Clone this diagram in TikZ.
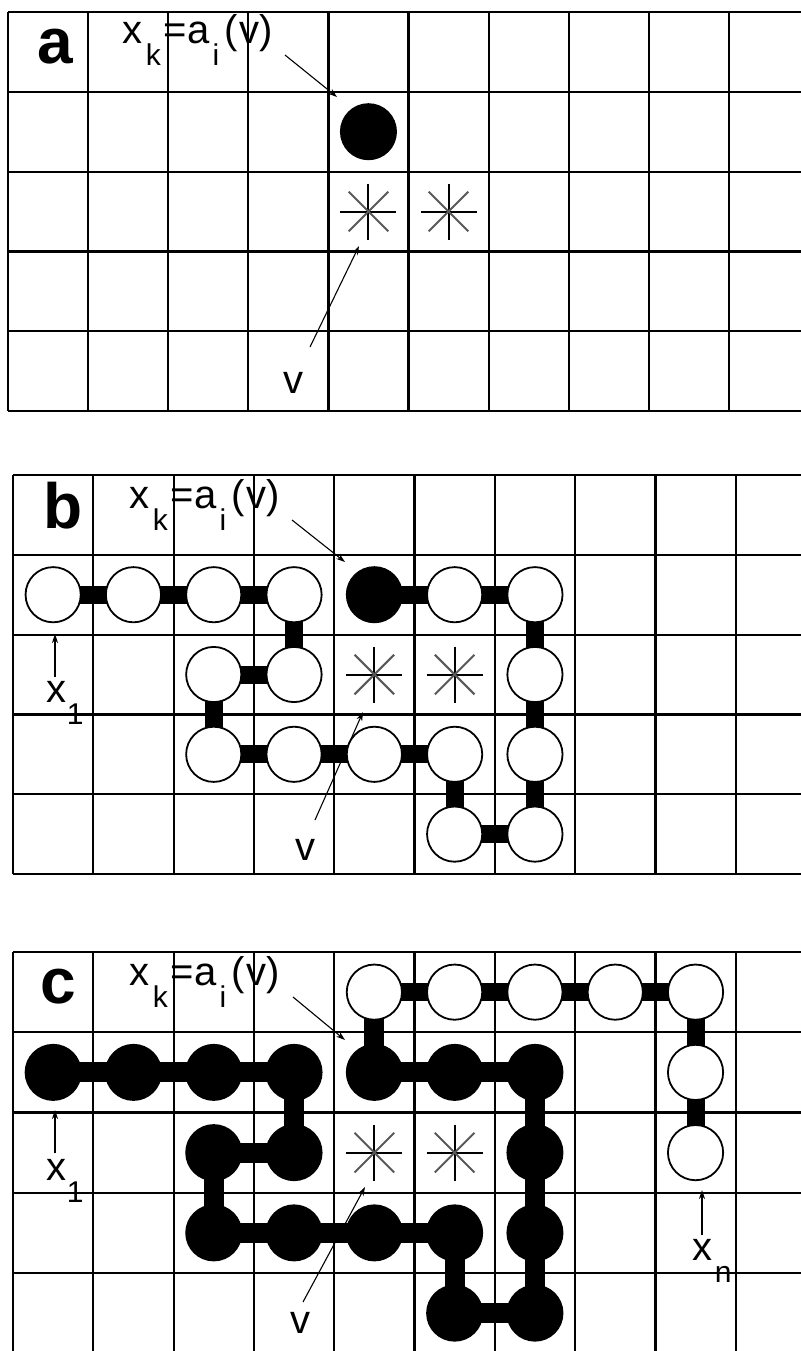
\documentclass[tikz,border=0pt]{standalone}
\usepackage{fontspec}
\setmainfont{Liberation Sans}
\usetikzlibrary{arrows.meta}
\pgfdeclarelayer{bglayer}
\pgfdeclarelayer{gridlayer}
\pgfdeclarelayer{barlayer}
\pgfsetlayers{bglayer,gridlayer,barlayer,main}
\newcommand{\sbs}[1]{\raisebox{-11pt}{\fontsize{15}{15}\selectfont #1}}
\newcommand{\mystar}[1]{%
  \draw[starv] ([yshift=14pt]#1.center) -- ([yshift=-14pt]#1.center);
  \draw[starv] ([xshift=-14pt]#1.center) -- ([xshift=14pt]#1.center);
  \draw[stard] ([shift={(-9.9pt,9.9pt)}]#1.center) -- ([shift={(9.9pt,-9.9pt)}]#1.center);
  \draw[stard] ([shift={(-9.9pt,-9.9pt)}]#1.center) -- ([shift={(9.9pt,9.9pt)}]#1.center);}
\begin{document}
\begin{tikzpicture}[x=0.5pt,y=-0.5pt,
  gridline/.style={line width=1.1pt,black},
  wc/.style={circle,draw=black,line width=0.9pt,fill=white,minimum size=27.6pt,inner sep=0pt},
  bc/.style={circle,draw=black,line width=0.9pt,fill=black,minimum size=27.6pt,inner sep=0pt},
  bar/.style={line width=9pt,black},
  bbar/.style={line width=10pt,black},
  ptr/.style={line width=0.55pt,black,-{Stealth[length=4.5pt,width=3pt]}},
  lbl/.style={inner sep=0pt,anchor=base west,font=\fontsize{20}{20}\selectfont},
  panel/.style={inner sep=0pt,anchor=base west,font=\fontsize{32}{32}\selectfont\bfseries},
  starnode/.style={inner sep=0pt,minimum size=28pt},
  starv/.style={line width=1pt,black},
  stard/.style={line width=1pt,black!65}]
\useasboundingbox (0,0) rectangle (801,1351);
\begin{pgfonlayer}{bglayer}
\fill[white] (0,0) rectangle (801,1351);
\end{pgfonlayer}

% cell centres
\foreach \c in {0,...,8}{\foreach \r in {0,...,4}{
  \coordinate (a-\c-\r) at ({8+80.1*(\c+0.5)},{12+79.8*(\r+0.5)});
  \coordinate (b-\c-\r) at ({13+80.3*(\c+0.5)},{475+79.8*(\r+0.5)});
  \coordinate (c-\c-\r) at ({13+80.3*(\c+0.5)},{952+80.25*(\r+0.5)});
}}

% grids
\begin{pgfonlayer}{gridlayer}
\foreach \i in {0,...,9}{
  \draw[gridline] ({8+80.1*\i},12) -- ({8+80.1*\i},411);
  \draw[gridline] ({13+80.3*\i},475) -- ({13+80.3*\i},874);
  \draw[gridline] ({13+80.3*\i},952) -- ({13+80.3*\i},1351);
}
\foreach \j in {0,...,5}{
  \draw[gridline] (8,{12+79.8*\j}) -- (801,{12+79.8*\j});
  \draw[gridline] (13,{475+79.8*\j}) -- (801,{475+79.8*\j});
}
\foreach \j in {0,...,4}{
  \draw[gridline] (13,{952+80.25*\j}) -- (801,{952+80.25*\j});
}
\end{pgfonlayer}

% ---------------- panel a
\node[panel] (pa) at (37.5,63) {a};
\node[lbl] (axk) at (122.5,43) {x\kern1.5pt\sbs{k}\kern1.5pt=a\kern1.5pt\sbs{i}\kern2.5pt(\kern1pt v)};
\node[bc] (ak) at (a-4-1) {};
\node[starnode] (as1) at (a-4-2) {};
\node[starnode] (as2) at (a-5-2) {};
\mystar{as1}\mystar{as2}
\node[lbl] (av) at (283,393) {v};
\coordinate (a-xks) at (285,55);
\coordinate (a-xke) at (337,97);
\coordinate (a-vs) at (310,347);
\coordinate (a-ve) at (359,246);
\draw[ptr] (a-xks) -- (a-xke);
\draw[ptr] (a-vs) -- (a-ve);

% ---------------- panel b
\node[panel] (pb) at (43.5,528) {b};
\node[lbl] (bxk) at (129.5,508) {x\kern1.5pt\sbs{k}\kern1.5pt=a\kern1.5pt\sbs{i}\kern2.5pt(\kern1pt v)};
\foreach \c/\r/\s [count=\i] in {0/1/wc,1/1/wc,2/1/wc,3/1/wc,3/2/wc,2/2/wc,2/3/wc,3/3/wc,4/3/wc,5/3/wc,5/4/wc,6/4/wc,6/3/wc,6/2/wc,6/1/wc,5/1/wc,4/1/bc}{
  \node[\s] (b\i) at (b-\c-\r) {};
}
\begin{pgfonlayer}{barlayer}
\foreach \i [evaluate=\i as \j using int(\i+1)] in {1,...,16}{
  \draw[bar] (b\i.center) -- (b\j.center);
}
\end{pgfonlayer}
\node[starnode] (bs1) at (b-4-2) {};
\node[starnode] (bs2) at (b-5-2) {};
\mystar{bs1}\mystar{bs2}
\node[lbl] (bv) at (295,860) {v};
\node[lbl] (bx1) at (46.5,702) {x\sbs{1}};
\coordinate (b-xks) at (292,520);
\coordinate (b-xke) at (345,562);
\coordinate (b-vs) at (315,820);
\coordinate (b-ve) at (363,712);
\coordinate (b-x1s) at (55,677);
\coordinate (b-x1e) at (55,634);
\draw[ptr] (b-xks) -- (b-xke);
\draw[ptr] (b-vs) -- (b-ve);
\draw[ptr] (b-x1s) -- (b-x1e);

% ---------------- panel c
\node[panel] (pc) at (40.5,1003) {c};
\node[lbl] (cxk) at (129.5,985) {x\kern1.5pt\sbs{k}\kern1.5pt=a\kern1.5pt\sbs{i}\kern2.5pt(\kern1pt v)};
\foreach \c/\r/\s [count=\i] in {0/1/bc,1/1/bc,2/1/bc,3/1/bc,3/2/bc,2/2/bc,2/3/bc,3/3/bc,4/3/bc,5/3/bc,5/4/bc,6/4/bc,6/3/bc,6/2/bc,6/1/bc,5/1/bc,4/1/bc,4/0/wc,5/0/wc,6/0/wc,7/0/wc,8/0/wc,8/1/wc,8/2/wc}{
  \node[\s] (c\i) at (c-\c-\r) {};
}
\begin{pgfonlayer}{barlayer}
\foreach \i [evaluate=\i as \j using int(\i+1)] in {1,...,17}{
  \draw[bbar] (c\i.center) -- (c\j.center);
}
\foreach \i [evaluate=\i as \j using int(\i+1)] in {18,...,23}{
  \draw[bar] (c\i.center) -- (c\j.center);
}
\end{pgfonlayer}
\node[starnode] (cs1) at (c-4-2) {};
\node[starnode] (cs2) at (c-5-2) {};
\mystar{cs1}\mystar{cs2}
\node[lbl] (cv) at (290,1333) {v};
\node[lbl] (cx1) at (46.5,1180) {x\sbs{1}};
\node[lbl] (cxn) at (692.5,1260) {x\kern1pt\sbs{n}};
\coordinate (c-xks) at (293,997);
\coordinate (c-xke) at (345,1040);
\coordinate (c-vs) at (303,1302);
\coordinate (c-ve) at (365,1187);
\coordinate (c-x1s) at (55,1153);
\coordinate (c-x1e) at (55,1110);
\coordinate (c-xns) at (702,1235);
\coordinate (c-xne) at (702,1190);
\draw[ptr] (c-xks) -- (c-xke);
\draw[ptr] (c-vs) -- (c-ve);
\draw[ptr] (c-x1s) -- (c-x1e);
\draw[ptr] (c-xns) -- (c-xne);
\end{tikzpicture}
\end{document}
